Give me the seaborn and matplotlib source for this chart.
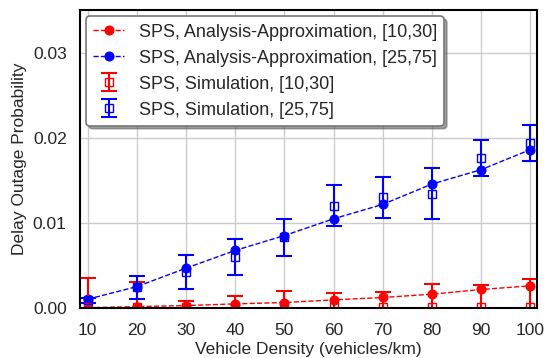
import numpy as np
import pandas as pd
import seaborn as sns
import matplotlib.pyplot as plt

density = [10, 20, 30, 40, 50, 60, 70, 80, 90, 100]

ana_10_30 = [0.00002, 0.00015, 0.00027, 0.00047, 0.00063, 0.00094, 0.00122, 0.00161, 0.00216, 0.00259]
ana_25_75 = [0.00102, 0.0025, 0.00467, 0.00675, 0.0085, 0.01047, 0.01216, 0.01455, 0.01624, 0.01859]

sim_10_30 = [0.00005, 0.00005, 0.00005, 0.00005, 0.00005, 0.00005, 0.00005, 0.00005, 0.00005, 0.00005]
err_10_30 = [0.0035, 0.003, 0.0007, 0.0013, 0.0019, 0.0017, 0.0018, 0.0028, 0.0026, 0.0033]
sim_25_75 = [0.0009, 0.0024, 0.0042, 0.006, 0.0083, 0.012, 0.013, 0.0134, 0.0176, 0.0194]
err_25_75 = [0.0003, 0.0013, 0.002, 0.0021, 0.0022, 0.0024, 0.0024, 0.003, 0.0021, 0.0021]

sns.set_theme(style="whitegrid")
plt.rcParams["font.family"] = ["Liberation Sans", "DejaVu Sans"]

fig, ax = plt.subplots(figsize=(5.47, 3.58), dpi=100)

df = pd.DataFrame({"x": density, "a": ana_10_30, "b": ana_25_75})
sns.lineplot(data=df, x="x", y="a", ax=ax, color="red", linestyle="--", marker="o",
             markersize=6.5, markeredgecolor="red", linewidth=1,
             label="SPS, Analysis-Approximation, [10,30]")
sns.lineplot(data=df, x="x", y="b", ax=ax, color="blue", linestyle="--", marker="o",
             markersize=6.5, markeredgecolor="blue", linewidth=1,
             label="SPS, Analysis-Approximation, [25,75]")

ax.errorbar(density, sim_10_30, yerr=err_10_30, fmt="s", color="red", mfc="none",
            markersize=6, capsize=6, elinewidth=1.5, capthick=1.5,
            label="SPS, Simulation, [10,30]")
ax.errorbar(density, sim_25_75, yerr=err_25_75, fmt="s", color="blue", mfc="none",
            markersize=6, capsize=6, elinewidth=1.5, capthick=1.5,
            label="SPS, Simulation, [25,75]")

ax.set_xlim(8.4, 101.4)
ax.set_ylim(0, 0.035)
ax.set_xticks(density)
ax.set_yticks([0, 0.01, 0.02, 0.03])
ax.set_yticklabels(["0.00", "0.01", "0.02", "0.03"])
ax.tick_params(labelsize=12.5)
ax.tick_params(axis="x", pad=5)
ax.set_xlabel("Vehicle Density (vehicles/km)", fontsize=12.5, labelpad=3)
ax.set_ylabel("Delay Outage Probability", fontsize=12.5)
for s in ax.spines.values():
    s.set_color("black")
    s.set_linewidth(1.5)

leg = ax.legend(loc="upper left", fontsize=13, shadow=True, fancybox=True, framealpha=1,
                borderaxespad=0.35, handlelength=1.7)
leg.get_frame().set_edgecolor("#777777")
leg.get_frame().set_linewidth(1.2)

plt.subplots_adjust(left=0.146, right=0.982, top=0.972, bottom=0.14)
plt.savefig("out.png", dpi=100)
